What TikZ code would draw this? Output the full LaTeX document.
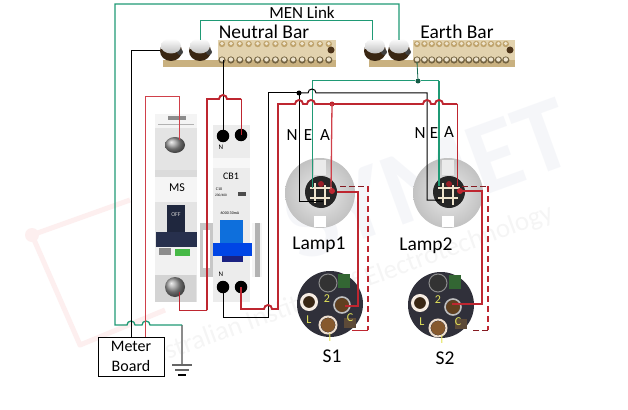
\documentclass[tikz,border=0pt]{standalone}
\usepackage{fontspec}
\setmainfont{Carlito}
\definecolor{wgreen}{HTML}{1F9A75}
\definecolor{wred}{HTML}{BE2630}
\definecolor{wpink}{HTML}{D0404A}
\definecolor{bartan}{HTML}{E2D2AE}
\definecolor{brassc}{HTML}{BFA36C}
\definecolor{bodyg}{HTML}{E4E4E4}
\definecolor{sdark}{HTML}{30303A}
\definecolor{yel}{HTML}{E4E45A}
\definecolor{navy}{HTML}{27304D}
\definecolor{bluetog}{HTML}{0E6FDC}
\definecolor{wmblue}{HTML}{C8CEE0}
\definecolor{wmpink}{HTML}{FDEFEF}
\tikzset{
  wiregreen/.style={draw=wgreen,line width=1.3pt},
  wirethin/.style={draw=wgreen,line width=.8pt},
  wireblack/.style={draw=black,line width=1pt},
  wirered/.style={draw=wred,line width=1.9pt},
  wireredthin/.style={draw=wred,line width=1pt},
  wiredash/.style={draw=wred,line width=1.5pt,dash pattern=on 6pt off 4pt},
  wiredashthin/.style={draw=wred!70!black,line width=.7pt,dash pattern=on 6pt off 3pt},
  junction/.style={circle,inner sep=0pt,minimum size=5pt},
  lbl/.style={font=\fontsize{#1}{#1}\selectfont,text=black,inner sep=0pt},
  ylbl/.style={font=\fontsize{12}{12}\selectfont,text=yel,inner sep=0pt},
  term/.style={circle,fill=black,inner sep=0pt,minimum size=12.5pt},
}
\newcommand{\barscrews}[2]{%
  \foreach \sx in {0,...,12}{
    \fill[brassc] ({#1+\sx*#2},44) circle (3.2pt);
    \fill[bartan!60!white] ({#1+\sx*#2},43.5) circle (1.9pt);
    \fill[brassc!60!black] ({#1+\sx*#2},60) circle (3.6pt);
    \fill[bartan!60!white] ({#1+\sx*#2},59.5) circle (2.2pt);
  }}
\newcommand{\bigbolt}[1]{%
  \fill[black!70!brown] (#1,51) ellipse (11pt and 10pt);
  \fill[black!75] ({#1+9},52) circle (3pt);
  \shade[top color=white,bottom color=black!25] (#1,46) ellipse (10pt and 7.5pt);}
\newcommand{\lampdisc}[2]{%
  \shade[inner color=black!8,outer color=black!24] (#1,#2) circle (35pt);
  \fill[white!92!black] ({#1-6},{#2-33}) rectangle ({#1+6},{#2-18});
  \fill[white] ({#1-6},{#2+23}) rectangle ({#1+6},{#2+34});
  \fill[black!85] ({#1+1},{#2-1}) circle (16pt);
  \fill[wred!80!black] ({#1+1},{#2-9}) circle (3pt);
  \draw[line width=2.2pt,color=bartan!60!white] ({#1-10},{#2-5}) -- ({#1+12},{#2-5})
     ({#1-10},{#2+5}) -- ({#1+10},{#2+5}) ({#1-5},{#2-10}) -- ({#1-5},{#2+10}) ({#1+5},{#2-8}) -- ({#1+5},{#2+12});
  \fill[wred] ({#1+12},{#2-2}) circle (3pt);}
\newcommand{\switchdisc}[8]{%
  \fill[sdark] (#1,#2) circle (33pt);
  \fill[black!50!gray!80!green] ({#1+8},{#2-30}) rectangle ({#1+20},{#2-16});
  \fill[black!60!brown!70!gray] ({#1+14},{#2+14}) rectangle ({#1+26},{#2+24});
  \fill[black!80] (#3,#4) circle (9pt);
  \draw[black!45,line width=1pt] (#3,#4) circle (9pt);
  \fill[black!70!brown] (#5,#6) circle (6pt);
  \draw[white!85!brown,line width=3pt] (#5,#6) circle (7.5pt);
  \fill[black!50!brown] (#7,#8) circle (7pt);
  \draw[black!25,line width=1.6pt] (#7,#8) circle (8pt);}
\newcommand{\switchbottom}[2]{%
  \fill[brown!70!black] (#1,#2) circle (7pt);
  \draw[white!75!brown,line width=2pt] (#1,#2) circle (8.5pt);}
\begin{document}
\begin{tikzpicture}[x=1pt,y=-1pt]
\useasboundingbox (0,0) rectangle (628,409);
\fill[white] (0,0) rectangle (628,409);
%% watermark
\draw[wmpink,line width=5pt,line join=round] (130,200) -- (32,235) -- (80,345) -- (165,310);
\fill[wmpink] (32,235) circle (7pt);
\begin{scope}[opacity=.17]
\node[rotate=20,font=\bfseries\fontsize{105}{105}\selectfont,text=wmblue] (wm2) at (428,180) {SYMET};
\end{scope}
\begin{scope}[opacity=.08]
\node[rotate=20,font=\fontsize{27}{27}\selectfont,text=gray] (wm1) at (345,288) {Australian Institute of Electrotechnology};
\end{scope}
%% bars
\fill[bartan] (218,40) rectangle (336,67);
\fill[bartan] (413,40) rectangle (515,67);
\fill[brassc!70!bartan] (163,60) rectangle (336,67);
\fill[brassc!70!bartan] (369,60) rectangle (515,67);
\barscrews{222}{8.9}
\barscrews{417}{7.4}
\fill[black!60!brown] (331,50) circle (3.5pt);
\fill[black!60!brown] (510,50) circle (3.5pt);
\bigbolt{171}\bigbolt{200}\bigbolt{375}\bigbolt{399}
%% MS breaker
\fill[bodyg!40!white] (155,114) rectangle (197,130);
\fill[black!45] (168,116) rectangle (186,120);
\draw[black!30,line width=.5pt] (158,124) -- (194,124);
\fill[bodyg] (155,128) rectangle (197,170);
\fill[black!14] (155,170) rectangle (197,177);
\fill[white!96!black] (155,177) rectangle (197,202);
\fill[bodyg] (155,202) rectangle (197,302);
\fill[navy!80!black] (167,205) rectangle (185,232);
\fill[navy] (156,232) rectangle (197,247);
\fill[bodyg!50!white] (155,247) rectangle (197,275);
\fill[green!45!gray] (175,249) rectangle (190,256);
\fill[black!45] (159,248) rectangle (171,255);
\fill[black!17] (155,275) rectangle (196,302);
\shade[ball color=black!40] (175,145) ellipse (10pt and 8pt);
\shade[ball color=black!40] (175,287) ellipse (10pt and 10pt);
\node[lbl=12] (mslbl) at (177,188) {MS};
\node[lbl=6,text=white!80!black] (offlbl) at (176,215) {OFF};
%% CB
\fill[bodyg!70!white] (213,125) rectangle (250,302);
\fill[white!97!black] (213,158) rectangle (250,168);
\fill[black!22] (200,223) rectangle (213,277);
\fill[white!96!black] (252,223) rectangle (262,277);
\fill[black!30] (255,223) rectangle (260,277);
\fill[white] (203,230) rectangle (210,268);
\fill[bluetog] (220,220) rectangle (243,245);
\fill[blue!70!cyan!90!black] (213,243) rectangle (252,256);
\fill[navy!70!blue] (222,256) rectangle (243,262);
\node[lbl=10] (cblbl) at (231,176) {CB1};
\node[lbl=4] (cbsm1) at (219,189) {C10};
\fill[black!70] (238,192) rectangle (246,196);
\node[lbl=3.5] (cbsm2) at (221,195) {230/400};
\node[lbl=4] (cbsm3) at (230,213) {6000 30mA};
\node[lbl=7] (cbN1) at (221,147) {N};
\node[lbl=7] (cbN2) at (221,274) {N};
\node[term] (cbtn) at (223,136) {};
\node[term] (cbta) at (241,135) {};
\node[term] (cbbn) at (223,287) {};
\node[term] (cbba) at (241,287) {};
%% lamps and switches
\lampdisc{320}{193}
\lampdisc{448}{193}
\switchdisc{330}{304}{328}{283}{309}{302}{342}{305}
\switchbottom{328}{325}
\switchdisc{441}{305}{438}{283}{420}{303}{453}{307}
\switchbottom{438}{328}
\node[ylbl] (s1a) at (327,299) {2};
\node[ylbl] (s1b) at (309,320) {L};
\node[ylbl] (s1c) at (350,318) {C};
\node[ylbl] (s1d) at (330,338) {I};
\node[ylbl] (s2a) at (438,300) {2};
\node[ylbl] (s2b) at (422,322) {L};
\node[ylbl] (s2c) at (458,322) {C};
\node[ylbl] (s2d) at (442,340) {I};
%% named points
\coordinate (nb1) at (160,51);
\coordinate (nb2) at (200,40);
\coordinate (eb1) at (372,40);
\coordinate (eb2) at (399,40);
\coordinate (nscrew) at (223,60);
\coordinate (escrew) at (417,62);
\coordinate (mstop) at (179,140);
\coordinate (msbot) at (179,292);
\node[junction,fill=black] (jn) at (299,93) {};
\node[junction,fill=wred] (ja) at (332,104) {};
\node[junction,fill=wgreen!60!black] (je) at (418,81) {};
\coordinate (l1n) at (323,201);
\coordinate (l1e) at (312,188);
\coordinate (l1a) at (331,190);
\coordinate (l1o) at (337,192);
\coordinate (l1d) at (340,186);
\coordinate (l2n) at (440,200);
\coordinate (l2e) at (439,186);
\coordinate (l2a) at (457,186);
\coordinate (l2o) at (462,191);
\coordinate (l2d) at (462,186);
\coordinate (s1cc) at (345,306);
\coordinate (s1e) at (352,330);
\coordinate (s2cc) at (452,304);
\coordinate (s2e) at (470,330);
%% meter board and ground
\node[draw=black,line width=.8pt,fill=white,minimum width=66pt,minimum height=39pt,inner sep=0pt,
      align=center,font=\fontsize{16}{20}\selectfont] (meter) at (131,356.5) {Meter\\Board};
\coordinate (gnd) at (182,365);
\draw[draw=black!45,line width=1.6pt] (182,325) -- (gnd);
\draw[draw=black!60,line width=1.3pt] (172,365) -- (192,365) (175,370) -- (189,370);
\draw[draw=black,line width=1.5pt] (178,375) -- (186,375);
%% green
\draw[wiregreen] (182,325) -- (150,325) arc[start angle=0,end angle=-180,radius=4] -- (135,325) arc[start angle=0,end angle=-180,radius=4] -- (115,325) -- (115,4) -- (399,4) -- (eb2);
\draw[wirethin] (nb2) -- (200,20) -- (372,20) -- (eb1);
\draw[wirethin,line width=1pt] (je) -- (312,81) -- (l1e);
\draw[wirethin,line width=1pt] (je) -- (439,81);
\draw[wiregreen,line width=1.8pt] (439,81) -- (l2e);
\draw[wirethin,draw=wgreen!70!black] (escrew) -- (je);
%% black
\draw[wireblack] (nb1) -- (131,51) -- (meter.north -| 131,0);
\draw[wireblack] (nscrew) -- (cbtn.center);
\draw[wireblack] (cbbn.center) -- (223,317) -- (268,317) -- (268,93) -- (jn.center);
\draw[wireblack] (jn.center) -- (l1n -| jn) -- (l1n);
\draw[wireblack] (jn.center) -- (308,93) arc[start angle=180,end angle=360,radius=4] -- (427,93) -- (427,200) -- (l2n);
%% red
\draw[wireredthin,draw=wpink] (145,337) -- (145,97) -- (179,97) -- (mstop);
\draw[wireredthin] (msbot) -- (179,310) -- (207,310);
\draw[wirered] (207,310) -- (207,99) -- (219,99) arc[start angle=180,end angle=360,radius=4] -- (241,99);
\draw[wireredthin] (241,99) -- (cbta.center);
\draw[wirered] (cbba.center) -- (241,309) -- (264,309) arc[start angle=180,end angle=360,radius=4] -- (278,309) -- (278,104) -- (295,104) arc[start angle=180,end angle=360,radius=4] -- (307,104) arc[start angle=180,end angle=360,radius=4] -- (ja.center) -- (423,104) arc[start angle=180,end angle=360,radius=4] -- (435,104) arc[start angle=180,end angle=360,radius=4] -- (457,104);
\draw[wireredthin,draw=wpink,line width=1.3pt] (ja.center) -- (l1a);
\draw[wireredthin] (457,104) -- (l2a);
\draw[wireredthin,line width=1.4pt] (l1o) -- (358,192) -- (358,306) -- (s1cc);
\draw[wiredashthin] (l1d) -- (368,186);
\draw[wiredash] (368,186) -- (368,330);
\draw[wireredthin] (368,330) -- (s1e);
\draw[wireredthin,line width=1.4pt] (l2o) -- (482,191) -- (482,304) -- (s2cc);
\draw[wiredashthin] (l2d) -- (488,186);
\draw[wiredash] (488,186) -- (488,330);
\draw[wiredashthin] (488,330) -- (s2e);
%% labels
\node[lbl=17] (men) at (302,13) {MEN Link};
\node[lbl=19.5] (neut) at (264,32) {Neutral Bar};
\node[lbl=19.5] (earth) at (457,32) {Earth Bar};
\node[lbl=17] (ln1) at (292,135) {N};
\node[lbl=17] (le1) at (308,135) {E};
\node[lbl=17] (la1) at (325,135) {A};
\node[lbl=17] (ln2) at (420,133) {N};
\node[lbl=17] (le2) at (434,133) {E};
\node[lbl=17] (la2) at (449,132) {A};
\node[lbl=19.5] (lamp1) at (319,245) {Lamp1};
\node[lbl=19.5] (lamp2) at (426,246) {Lamp2};
\node[lbl=19.5] (s1l) at (332,356) {S1};
\node[lbl=19.5] (s2l) at (445,358) {S2};
\end{tikzpicture}
\end{document}
